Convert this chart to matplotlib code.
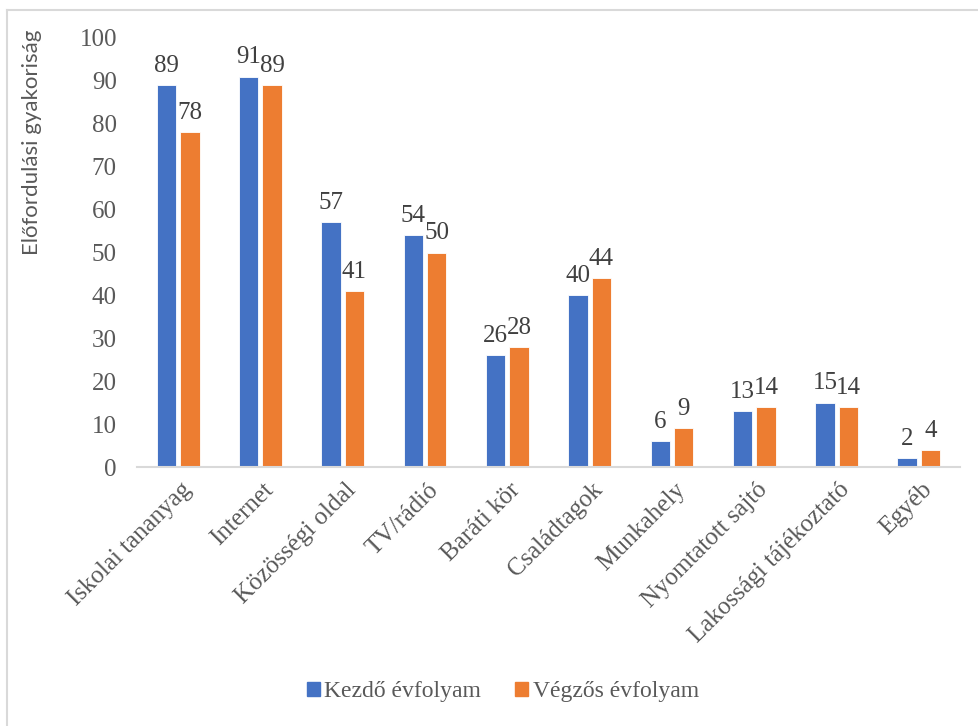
import matplotlib
matplotlib.use("Agg")
import matplotlib.pyplot as plt
from matplotlib.lines import Line2D
from matplotlib.patches import Patch
import numpy as np

categories = ["Iskolai tananyag", "Internet", "Közösségi oldal", "TV/rádió",
              "Baráti kör", "Családtagok", "Munkahely", "Nyomtatott sajtó",
              "Lakossági tájékoztató", "Egyéb"]
kezdo = [89, 91, 57, 54, 26, 40, 6, 13, 15, 2]
vegzos = [78, 89, 41, 50, 28, 44, 9, 14, 14, 4]
series_names = ["Kezdő évfolyam", "Végzős évfolyam"]
yticks = [0, 10, 20, 30, 40, 50, 60, 70, 80, 90, 100]

BLUE = "#4472C4"
ORANGE = "#ED7D31"
TEXT = "#595959"
AXIS = "#D9D9D9"
SERIF = "Liberation Serif"
FS = 18

W, H = 979, 726
fig = plt.figure(figsize=(W / 100, H / 100), dpi=100)

# chart-area frame (top and left edges visible)
fig.add_artist(Line2D([7 / W, 1.0], [1 - 10 / H, 1 - 10 / H], color=AXIS,
                      lw=1.5, transform=fig.transFigure))
fig.add_artist(Line2D([7 / W, 7 / W], [0, 1 - 10 / H], color=AXIS,
                      lw=1.5, transform=fig.transFigure))

left, right = 137, 960
y0, y100 = 467, 38
ax = fig.add_axes([left / W, 1 - y0 / H, (right - left) / W, (y0 - y100) / H])

x = np.arange(len(categories))
bw = 0.235
off = 0.142
b1 = ax.bar(x - off, kezdo, bw, color=BLUE, edgecolor="white", linewidth=0.6)
b2 = ax.bar(x + off, vegzos, bw, color=ORANGE, edgecolor="white", linewidth=0.6)

for bars, vals in ((b1, kezdo), (b2, vegzos)):
    for rect, v in zip(bars, vals):
        ax.annotate(str(v), (rect.get_x() + rect.get_width() / 2, v),
                    xytext=(0, 6), textcoords="offset points",
                    ha="center", va="bottom", fontsize=FS,
                    family=SERIF, color="#404040")

ax.set_xlim(-0.5, len(categories) - 0.5)
ax.set_ylim(0, 100)
ax.set_yticks(yticks)
ax.set_yticklabels([str(t) for t in yticks], family=SERIF, fontsize=FS,
                   color=TEXT)
ax.tick_params(axis="y", length=0, pad=14.5)
ax.tick_params(axis="x", length=0)

ax.set_xticks(x)
ax.set_xticklabels([])
for xi, lab in zip(x, categories):
    ax.annotate(lab, (xi + 0.12, 0), xytext=(0, -14), textcoords="offset points",
                rotation=45, rotation_mode="anchor", ha="right", va="center",
                fontsize=FS, family=SERIF, color=TEXT, annotation_clip=False)

for s in ("top", "right", "left"):
    ax.spines[s].set_visible(False)
ax.spines["bottom"].set_color(AXIS)
ax.spines["bottom"].set_linewidth(1.5)

fig.text(32 / W, 1 - 142 / H, "Előfordulási gyakoriság", rotation=90,
         ha="center", va="center", fontsize=16, family="Lato", color=TEXT)

handles = [Patch(color=BLUE), Patch(color=ORANGE)]
fig.legend(handles, series_names, loc="center", bbox_to_anchor=(503 / W, 1 - 692 / H),
           ncol=2, frameon=False, prop={"family": SERIF, "size": 17},
           labelcolor=TEXT, handlelength=0.55, handleheight=0.55,
           handletextpad=0.2, columnspacing=1.45)

fig.savefig("out.png", dpi=100, facecolor="white")
